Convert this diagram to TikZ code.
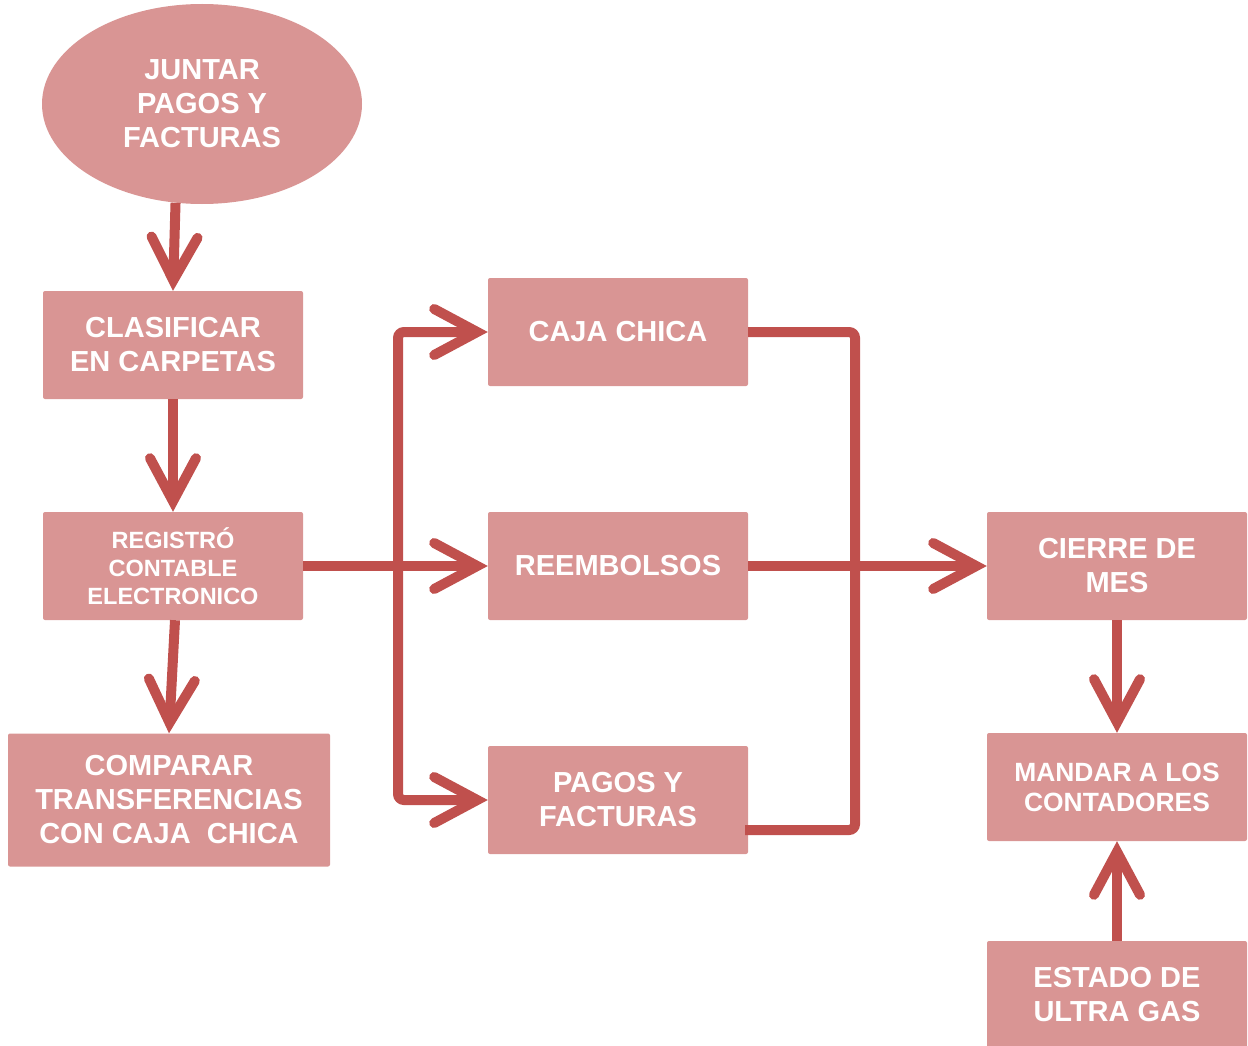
\documentclass[tikz,border=0pt]{standalone}
\usepackage{fontspec}
\setmainfont{Liberation Sans}
\usetikzlibrary{arrows.meta,shapes.geometric}
\definecolor{boxfill}{HTML}{D99594}
\definecolor{linecol}{HTML}{C0504D}
\begin{document}
\begin{tikzpicture}[x=1pt,y=-1pt,
 txt/.style={text=white, align=center, font=\bfseries\fontsize{29}{34}\selectfont},
 box/.style={txt, fill=boxfill, rounded corners=2pt, minimum width=260pt, minimum height=108pt, inner sep=0pt},
 conn/.style={draw=linecol, line width=10pt},
 arr/.style={conn, -{Straight Barb[length=43pt,width=46pt,line cap=round,line join=miter]}}
]
\useasboundingbox (0,0) rectangle (1248,1046);
\node[txt, ellipse, fill=boxfill, minimum width=320pt, minimum height=200pt, inner sep=0pt] (ell) at (202,104) {JUNTAR\\PAGOS Y\\FACTURAS};
\node[box] (clas) at (173,345) {CLASIFICAR\\EN CARPETAS};
\node[box, font=\bfseries\fontsize{23.5}{28}\selectfont] (reg) at (173,566) {REGISTRÓ\\CONTABLE\\ELECTRONICO};
\node[box, minimum width=322pt, minimum height=133pt] (comp) at (169,800) {COMPARAR\\TRANSFERENCIAS\\CON CAJA\ \ CHICA};
\node[box] (caja) at (618,332) {CAJA CHICA};
\node[box] (reem) at (618,566) {REEMBOLSOS};
\node[box] (pagos) at (618,800) {PAGOS Y\\FACTURAS};
\node[box] (cierre) at (1117,566) {CIERRE DE\\MES};
\node[box, font=\bfseries\fontsize{26.4}{30}\selectfont] (mandar) at (1117,787) {MANDAR A LOS\\CONTADORES};
\node[box] (estado) at (1117,995) {ESTADO DE\\ULTRA GAS};
\coordinate (br) at (398,566);
\coordinate (rc) at (855,830);
\draw[arr] (ell.255) -- (clas.north);
\draw[arr] (clas.south) -- (reg.north);
\draw[arr] ([xshift=2pt]reg.south) -- (comp.north);
\draw[arr] (reg.east) -- (reem.west);
\draw[arr, rounded corners=6pt] (br) |- (caja.west);
\draw[arr, rounded corners=6pt] (br) |- (pagos.west);
\draw[conn, rounded corners=6pt] (caja.east) -| (rc) -- ([xshift=-3pt,yshift=-30pt]pagos.east);
\draw[arr] (reem.east) -- (cierre.west);
\draw[arr] (cierre.south) -- (mandar.north);
\draw[arr] (estado.north) -- (mandar.south);
\end{tikzpicture}
\end{document}
